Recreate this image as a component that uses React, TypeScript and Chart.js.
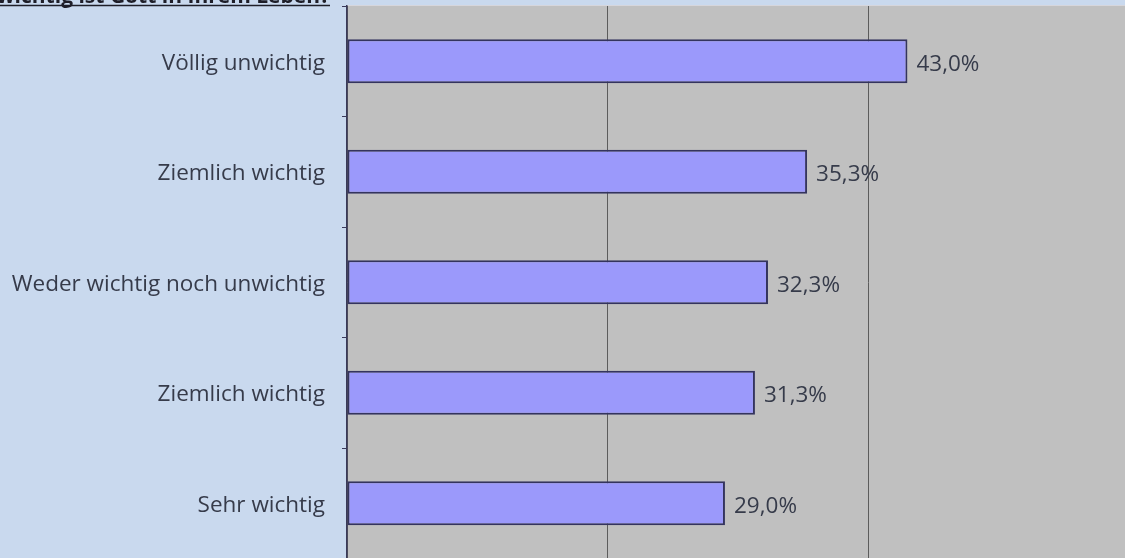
import React, { useEffect, useRef } from "react";
import { Chart, registerables } from "chart.js";

Chart.register(...registerables);

const categories = [
  "Völlig unwichtig",
  "Ziemlich wichtig",
  "Weder wichtig noch unwichtig",
  "Ziemlich wichtig",
  "Sehr wichtig",
];
const values = [43.0, 35.3, 32.3, 31.3, 29.0];
const valueLabels = ["43,0%", "35,3%", "32,3%", "31,3%", "29,0%"];
const titleText = "Wie wichtig ist Gott in Ihrem Leben?";
const xMin = 0;
const xMax = 60;
const xStep = 20;

const FONT = "'Open Sans'";
const TEXT_COLOR = "#363b4a";

const backgroundPlugin = {
  id: "bgPlugin",
  beforeDraw(chart: any) {
    const { ctx, chartArea } = chart;
    ctx.save();
    ctx.fillStyle = "#c9d9ee";
    ctx.fillRect(0, 0, chart.width, chart.height);
    ctx.fillStyle = "#c0c0c0";
    ctx.fillRect(chartArea.left, chartArea.top, chartArea.right - chartArea.left, chartArea.bottom - chartArea.top);
    ctx.strokeStyle = "#d6d6dc";
    ctx.lineWidth = 1;
    ctx.beginPath();
    ctx.moveTo(chartArea.left, chartArea.top - 0.5);
    ctx.lineTo(chartArea.right, chartArea.top - 0.5);
    ctx.stroke();
    ctx.restore();
  },
};

const titlePlugin = {
  id: "titlePlugin",
  afterDraw(chart: any) {
    const { ctx } = chart;
    ctx.save();
    ctx.font = `bold 21px ${FONT}`;
    ctx.fillStyle = "#1e1e28";
    ctx.textAlign = "right";
    ctx.textBaseline = "alphabetic";
    const right = 330;
    const baseline = 3;
    ctx.fillText(titleText, right, baseline);
    const w = ctx.measureText(titleText).width;
    ctx.strokeStyle = "#1e1e28";
    ctx.lineWidth = 1.5;
    ctx.beginPath();
    ctx.moveTo(right - w, baseline + 2.5);
    ctx.lineTo(right, baseline + 2.5);
    ctx.stroke();
    ctx.restore();
  },
};

const valueLabelPlugin = {
  id: "valueLabelPlugin",
  afterDatasetsDraw(chart: any) {
    const { ctx } = chart;
    const meta = chart.getDatasetMeta(0);
    ctx.save();
    ctx.font = `22.5px ${FONT}`;
    ctx.fillStyle = TEXT_COLOR;
    ctx.textAlign = "left";
    ctx.textBaseline = "middle";
    meta.data.forEach((bar: any, i: number) => {
      ctx.fillText(valueLabels[i], bar.x + 9, bar.y + 3);
    });
    ctx.restore();
  },
};

export default function App() {
  const canvasRef = useRef<HTMLCanvasElement | null>(null);

  useEffect(() => {
    const canvas = canvasRef.current;
    if (!canvas) return;
    const chart = new Chart(canvas, {
      type: "bar",
      data: {
        labels: categories,
        datasets: [
          {
            data: values,
            backgroundColor: "#9b99fb",
            borderColor: "#34345e",
            borderWidth: 2,
            borderSkipped: false,
            barPercentage: 0.4,
            categoryPercentage: 1,
          },
        ],
      },
      options: {
        indexAxis: "y",
        responsive: false,
        animation: false,
        devicePixelRatio: 1,
        layout: { padding: { left: 0, top: 6, right: 11, bottom: 11.5 } },
        plugins: {
          legend: { display: false },
          title: { display: false },
          tooltip: { enabled: false },
        },
        scales: {
          x: {
            min: xMin,
            max: xMax,
            ticks: { display: false, stepSize: xStep },
            grid: { color: "#5c5c5c", lineWidth: 1, drawTicks: false },
            border: { display: false },
            afterFit: (scale: any) => {
              scale.height = 0;
              scale.paddingLeft = 0;
              scale.paddingRight = 0;
            },
          },
          y: {
            ticks: {
              color: TEXT_COLOR,
              font: { family: "Open Sans", size: 22.5 },
              padding: 17,
              labelOffset: 2,
            },
            grid: {
              display: true,
              drawOnChartArea: false,
              drawTicks: true,
              tickLength: 5,
              color: "#3a3a5a",
              lineWidth: 1,
            },
            border: { display: true, color: "#3a3a5a", width: 1.5 },
            afterFit: (scale: any) => {
              scale.width = 347;
              scale.paddingTop = 0;
              scale.paddingBottom = 0;
            },
          },
        },
      },
      plugins: [backgroundPlugin, valueLabelPlugin, titlePlugin],
    });
    return () => chart.destroy();
  }, []);

  return (
    <div
      style={{
        position: "fixed",
        left: 0,
        top: 0,
        width: 1125,
        height: 558,
        overflow: "hidden",
        background: "#c9d9ee",
      }}
    >
      <canvas ref={canvasRef} width={1140} height={570} style={{ display: "block" }} />
    </div>
  );
}
